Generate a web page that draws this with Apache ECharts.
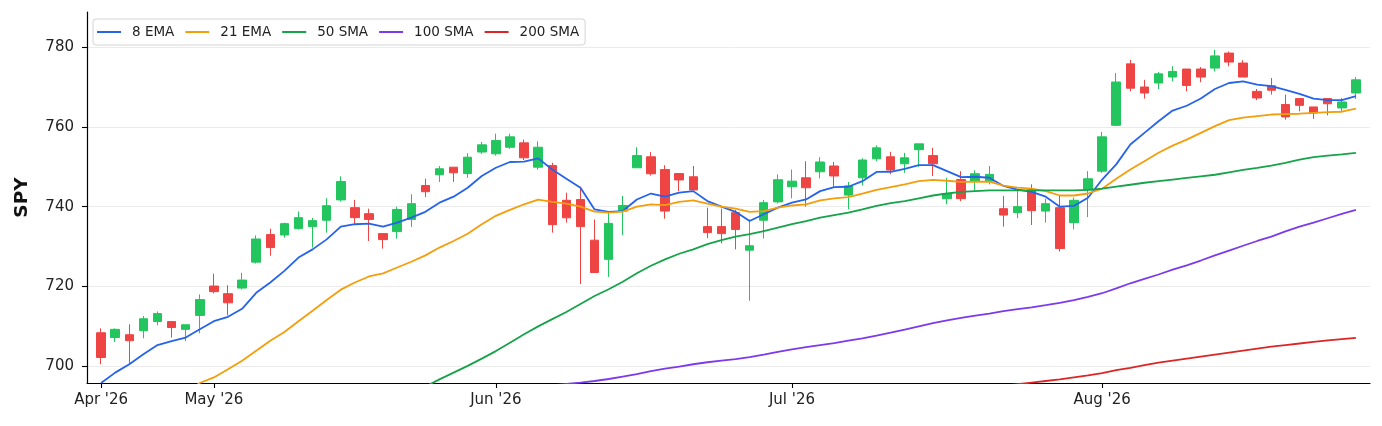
<!DOCTYPE html>
<html>
<head>
<meta charset="utf-8">
<title>SPY</title>
<script src="https://cdn.jsdelivr.net/npm/echarts@6/dist/echarts.min.js"></script>
<style>html,body{margin:0;padding:0;background:#fff;}</style>
</head>
<body>
<div id="main" style="width:1382px;height:426px;"></div>
<script type="text/javascript">
// daily candles, index 0 = first session shown (late Apr '26)
var open = [708.4, 707.2, 707.9, 708.9, 711.2, 711.2, 709.25, 712.75, 720.1, 718.2,
  719.6, 726.1, 733, 732.9, 734.5, 735, 736.6, 741.7, 739.75, 738.25,
  733.25, 733.75, 736.8, 745.3, 748, 749.9, 748.3, 753.7, 753.25, 754.9,
  756, 749.9, 750.3, 741.6, 741.8, 731.6, 726.8, 738.9, 749.75, 752.5,
  749.3, 748.3, 747.5, 735, 735, 738.5, 729.1, 736.6, 741.2, 745,
  747.25, 748.75, 750.2, 742.9, 747.25, 752, 752.5, 750.75, 754.3, 752.8,
  742, 746.8, 746.4, 746.4, 739.5, 738.5, 744.2, 738.9, 739.75, 736,
  744.2, 748.9, 760.4, 775.8, 770, 771, 772.5, 774.5, 774.5, 774.75,
  778.5, 776, 768.9, 770.3, 765.6, 767.1, 765, 767.1, 764.75, 768.5];
var close = [702.2, 709.25, 706.4, 711.9, 713.2, 709.7, 710.4, 716.7, 718.7, 715.9,
  721.6, 731.9, 729.75, 735.75, 737.25, 736.5, 740.25, 746.3, 737.25, 736.8,
  731.75, 739.3, 740.75, 743.75, 749.5, 748.5, 752.4, 755.5, 756.6, 757.5,
  752.25, 754.9, 735.5, 737.2, 735, 723.5, 735.8, 740.3, 752.8, 748.25,
  738.9, 746.7, 744.2, 733.5, 733.25, 734.3, 730.2, 741, 746.75, 746.4,
  744.75, 751.2, 747.7, 745.2, 751.7, 754.75, 749.2, 752.25, 755.75, 750.75,
  743.3, 742, 748.25, 748.1, 737.9, 740, 739, 740.75, 729.5, 741.6,
  747, 757.5, 771.25, 769.7, 768.5, 773.3, 773.9, 770.4, 772.5, 777.8,
  776.25, 772.5, 767.25, 769.2, 762.5, 765.4, 763.5, 765.8, 766.25, 771.8];
var low = [700.5, 706.1, 700.5, 707, 710.25, 707.2, 706.3, 708.25, 718.25, 712.75,
  719.25, 725.75, 727.7, 732.25, 734.3, 729.75, 733.5, 741.3, 735.75, 731.4,
  729.5, 732, 734.9, 742.4, 746.2, 746.2, 747.25, 753.25, 752.8, 754.5,
  751.7, 749.3, 733.5, 736, 720.6, 723.5, 722.4, 732.9, 749.75, 747.8,
  737, 743.9, 744.1, 732.1, 730.8, 729.3, 716.4, 732, 740.8, 742.1,
  740, 747.1, 745, 739.3, 745.3, 751.4, 748.1, 748.5, 750, 747.7,
  740.6, 741.4, 743.9, 745.6, 735, 737.1, 735.4, 736, 728.75, 734.3,
  737.4, 748.5, 760.2, 768.9, 767.1, 769.5, 771.4, 768.9, 771.2, 773.9,
  775.2, 772.5, 766.7, 768.1, 761.8, 763.9, 762, 762.9, 763.9, 767];
var high = [709.5, 709.5, 710.5, 712.6, 713.75, 711.2, 710.4, 718, 723.2, 720.3,
  723.4, 732.8, 734.5, 736, 738.8, 737.2, 742.1, 747.6, 741.7, 739.5,
  733.25, 740, 743.1, 747, 750.2, 749.9, 753.4, 756.2, 758.3, 758.3,
  756.8, 756.4, 751, 743.5, 745, 736.8, 738.5, 742.7, 754.9, 753.7,
  750.4, 748.3, 750.2, 739.75, 739.5, 739.2, 736.8, 741.7, 748.1, 749.3,
  751.4, 752.4, 751.2, 746.2, 752.1, 755.4, 753.75, 753.5, 755.75, 754.75,
  747.25, 748.9, 749.1, 750.2, 742.7, 743.9, 745.6, 742, 742.7, 742.25,
  748.9, 758.75, 773.5, 776.8, 771.8, 773.75, 775.2, 774.5, 775, 779.3,
  778.9, 776.7, 769.5, 772.25, 768.1, 767.1, 765, 767.1, 767.25, 772.5];

// moving averages (null = below the visible range)
var ema8 = [695.8, 698.4, 700.5, 703, 705.3, 706.3, 707.2, 709.25, 711.3, 712.4,
  714.4, 718.4, 721, 723.9, 727.25, 729.3, 731.8, 735, 735.6, 735.75,
  735, 736, 737.25, 738.7, 741, 742.5, 744.75, 747.7, 749.75, 751.2,
  751.3, 752.1, 749.3, 747, 744.75, 739.3, 738.7, 738.9, 741.8, 743.3,
  742.5, 743.5, 743.9, 741.4, 740, 738.7, 736.4, 738.1, 739.75, 741,
  741.8, 743.9, 744.9, 745, 746.4, 748.7, 748.75, 749.5, 750.4, 750.4,
  748.9, 747.4, 747.5, 747.25, 745.2, 744.3, 743.7, 742.5, 740, 740.2,
  742.25, 746.8, 750.6, 755.6, 758.5, 761.4, 764.1, 765.3, 767.1, 769.5,
  771, 771.4, 770.6, 770.2, 769.3, 768.3, 767.1, 766.7, 766.7, 767.7];
var ema21 = [null, null, null, null, null, null, 693.5, 695.8, 697.2, 699.25,
  701.4, 703.9, 706.4, 708.6, 711.3, 713.9, 716.6, 719.2, 721, 722.5,
  723.3, 724.75, 726.2, 727.8, 729.75, 731.4, 733.2, 735.6, 737.7, 739.2,
  740.6, 741.75, 741.2, 740.75, 740, 738.75, 738.5, 738.75, 740, 740.6,
  740.4, 741.2, 741.6, 740.75, 740, 739.5, 738.7, 738.9, 739.75, 740.3,
  740.6, 741.6, 742.1, 742.4, 743.3, 744.2, 744.9, 745.6, 746.4, 746.7,
  746.5, 746.2, 746.3, 746.25, 745.3, 744.75, 744.5, 743.9, 742.8, 742.8,
  743.3, 744.5, 747, 749.3, 751.4, 753.5, 755.3, 756.8, 758.5, 760.2,
  761.7, 762.3, 762.7, 763.1, 763.2, 763.3, 763.5, 763.7, 763.8, 764.6];
var sma50 = [null, null, null, null, null, null, null, null, null, null,
  null, null, null, null, null, null, null, null, null, null,
  null, null, 693.2, 694.9, 696.7, 698.4, 700.1, 701.9, 703.8, 705.9,
  708, 710, 711.8, 713.6, 715.6, 717.6, 719.3, 721.2, 723.3, 725.2,
  726.8, 728.2, 729.3, 730.6, 731.6, 732.5, 733.1, 733.9, 734.75, 735.6,
  736.4, 737.25, 737.9, 738.5, 739.3, 740.2, 740.9, 741.4, 742.1, 742.8,
  743.3, 743.7, 743.9, 744.1, 744.1, 744.1, 744.1, 744.1, 744.1, 744.1,
  744.2, 744.5, 745, 745.5, 746, 746.4, 746.8, 747.2, 747.6, 748,
  748.6, 749.2, 749.7, 750.3, 751, 751.8, 752.4, 752.8, 753.1, 753.5];
var sma100 = [null, null, null, null, null, null, null, null, null, null,
  null, null, null, null, null, null, null, null, null, null,
  null, null, null, null, null, null, null, null, null, null,
  null, null, 695.2, 695.6, 695.9, 696.3, 696.8, 697.4, 698, 698.8,
  699.4, 699.9, 700.5, 701, 701.4, 701.8, 702.3, 702.9, 703.6, 704.25,
  704.8, 705.3, 705.8, 706.4, 707, 707.7, 708.4, 709.2, 710, 710.8,
  711.5, 712.1, 712.7, 713.2, 713.8, 714.3, 714.75, 715.3, 715.9, 716.6,
  717.4, 718.3, 719.5, 720.8, 721.9, 723, 724.2, 725.3, 726.5, 727.8,
  729, 730.2, 731.4, 732.5, 733.8, 735, 736, 737.1, 738.2, 739.2];
var sma200 = [null, null, null, null, null, null, null, null, null, null,
  null, null, null, null, null, null, null, null, null, null,
  null, null, null, null, null, null, null, null, null, null,
  null, null, null, null, null, null, null, null, null, null,
  null, null, null, null, null, null, null, null, null, null,
  null, null, null, null, null, null, null, null, null, null,
  null, null, null, null, 695.1, 695.5, 695.9, 696.3, 696.7, 697.2,
  697.7, 698.3, 699, 699.6, 700.3, 700.9, 701.4, 701.9, 702.4, 702.9,
  703.4, 703.9, 704.4, 704.9, 705.3, 705.7, 706.1, 706.5, 706.8, 707.1];

var maNames = ['8 EMA', '21 EMA', '50 SMA', '100 SMA', '200 SMA'];
var maColors = ['#2563eb', '#f59e0b', '#16a34a', '#7c3aed', '#dc2626'];
var maValues = [ema8, ema21, sma50, sma100, sma200];

// x ticks sit on the first session of each month
var tickIdx = [0, 8, 28, 49, 71];
var tickLabels = ["Apr '26", "May '26", "Jun '26", "Jul '26", "Aug '26"];
var yTicks = [700, 720, 740, 760, 780];

var myChart = echarts.init(document.getElementById('main'));

var candles = open.map(function (o, i) {
  return [i, o, close[i], low[i], high[i]];
});

function toPairs(arr) {
  var out = [];
  for (var i = 0; i < arr.length; i++) {
    if (arr[i] != null) out.push([i, arr[i]]);
  }
  return out;
}

var series = [{
  name: 'SPY',
  type: 'candlestick',
  data: candles,
  encode: { x: 0, y: [1, 2, 3, 4] },
  barWidth: 9,
  itemStyle: {
    color: '#22c55e',
    color0: '#ef4444',
    borderColor: '#22c55e',
    borderColor0: '#ef4444',
    borderWidth: 1
  },
  z: 2
}];

maNames.forEach(function (name, k) {
  series.push({
    name: name,
    type: 'line',
    data: toPairs(maValues[k]),
    showSymbol: false,
    symbol: 'none',
    clip: true,
    lineStyle: { color: maColors[k], width: 1.8 },
    itemStyle: { color: maColors[k] },
    z: 3
  });
});

myChart.setOption({
  animation: false,
  backgroundColor: '#fff',
  textStyle: { fontFamily: 'DejaVu Sans' },
  grid: { left: 87, right: 12, top: 12, bottom: 43 },
  legend: {
    data: maNames,
    icon: 'rect',
    left: 93,
    top: 19,
    padding: [6, 6, 6, 4],
    itemWidth: 24,
    itemHeight: 2,
    itemGap: 11,
    backgroundColor: 'rgba(255,255,255,0.85)',
    borderColor: '#d4d4d4',
    borderWidth: 1,
    borderRadius: 3,
    textStyle: { fontFamily: 'DejaVu Sans', fontSize: 13.5, color: '#222', padding: [0, 0, 0, 6] }
  },
  xAxis: {
    type: 'value',
    min: -1,
    max: 90,
    axisLine: { onZero: false, lineStyle: { color: '#000', width: 1.2 } },
    axisTick: { customValues: tickIdx, length: 5, lineStyle: { color: '#000', width: 1.1 } },
    axisLabel: {
      customValues: tickIdx,
      margin: 10,
      fontSize: 15,
      color: '#222',
      formatter: function (v) {
        var k = tickIdx.indexOf(Math.round(v));
        return k >= 0 ? tickLabels[k] : '';
      }
    },
    splitLine: { show: false }
  },
  yAxis: {
    type: 'value',
    min: 695.8,
    max: 788.8,
    name: 'SPY',
    nameLocation: 'middle',
    nameGap: 55,
    nameRotate: 90,
    nameTextStyle: { fontFamily: 'DejaVu Sans', fontSize: 18.5, fontWeight: 'bold', color: '#111' },
    axisLine: { show: true, onZero: false, lineStyle: { color: '#000', width: 1.2 } },
    axisTick: { show: true, customValues: yTicks, length: 5, lineStyle: { color: '#000', width: 1.1 } },
    axisLabel: { customValues: yTicks, margin: 13, fontSize: 15, color: '#222' },
    splitLine: { show: true, lineStyle: { color: '#ebebeb', width: 1 } }
  },
  series: series
});
</script>
</body>
</html>
